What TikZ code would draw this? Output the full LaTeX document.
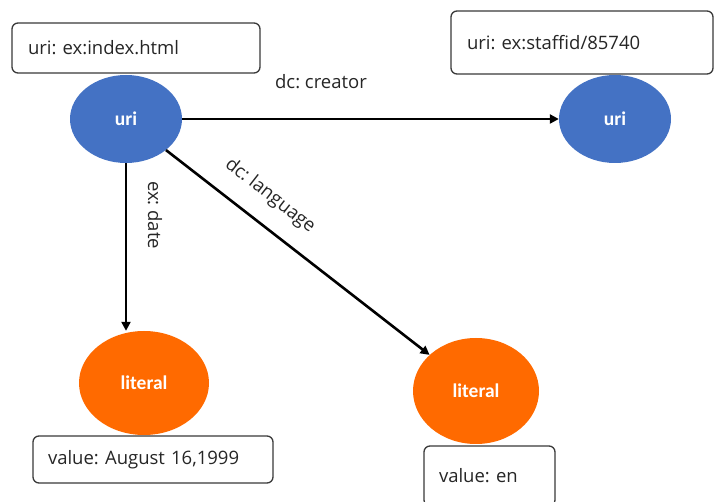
\documentclass[tikz,border=0pt]{standalone}
\usepackage{fontspec}
\setmainfont{Open Sans}
\newfontfamily\calib{Carlito}
\usetikzlibrary{arrows.meta,shapes.geometric}
\definecolor{uriblue}{HTML}{4472C4}
\definecolor{litorange}{HTML}{FF6A00}
\definecolor{boxline}{HTML}{3A3A3A}
\frenchspacing
\begin{document}
\begin{tikzpicture}[x=1pt,y=-1pt,
  lbl/.style={font=\fontsize{18.5}{20}\selectfont, text=black!85, inner sep=0pt},
  box/.style={draw=boxline, line width=1.3pt, rounded corners=6pt, fill=white,
    font=\fontsize{18.5}{20}\selectfont, text=black!85, align=left, inner ysep=0pt},
  urinode/.style={ellipse, fill=uriblue, minimum width=112pt, minimum height=88pt,
    inner sep=0pt, text=white, font=\calib\bfseries\fontsize{19.5}{21}\selectfont},
  litnode/.style={ellipse, fill=litorange, inner sep=0pt, text=white,
    font=\calib\bfseries\fontsize{19.5}{21}\selectfont},
  arr/.style={line width=2.6pt, draw=black, -{Triangle[length=9pt,width=9pt]}}]
\useasboundingbox (0,0) rectangle (715,502);
\fill[white] (0,0) rectangle (715,502);

% boxes
\node[box, minimum height=50pt, text width=216pt, inner xsep=16pt] (b1) at (136,48) {uri: ex:index.html};
\node[box, minimum height=63pt, text width=230pt, inner xsep=16pt] (b2) at (582,42.5) {uri: ex:staffid/85740};
\node[box, minimum height=47pt, text width=210pt, inner xsep=15pt] (b3) at (153,459.5) {value: August 16,1999};
\node[box, minimum height=60pt, text width=101pt, inner xsep=15pt] (b4) at (489.5,476) {value: en};

% ellipses
\node[urinode] (u1) at (126,119) {uri};
\node[urinode] (u2) at (615,119) {uri};
\node[litnode, minimum width=130pt, minimum height=104pt] (l1) at (144,383) {literal};
\node[litnode, minimum width=126pt, minimum height=106pt] (l2) at (476,391) {literal};

% connectors
\draw[arr] (u1.east) -- (u2.west);
\draw[arr] (u1.south) -- (u1.south |- l1.north);
\draw[arr] (u1) -- (l2);

% labels
\node[lbl] (t1) at (321,82) {dc: creator};
\node[lbl, rotate=-90] (t2) at (155,215) {ex: date};
\node[lbl, rotate=-38] (t3) at (270,196) {dc: language};
\end{tikzpicture}
\end{document}
